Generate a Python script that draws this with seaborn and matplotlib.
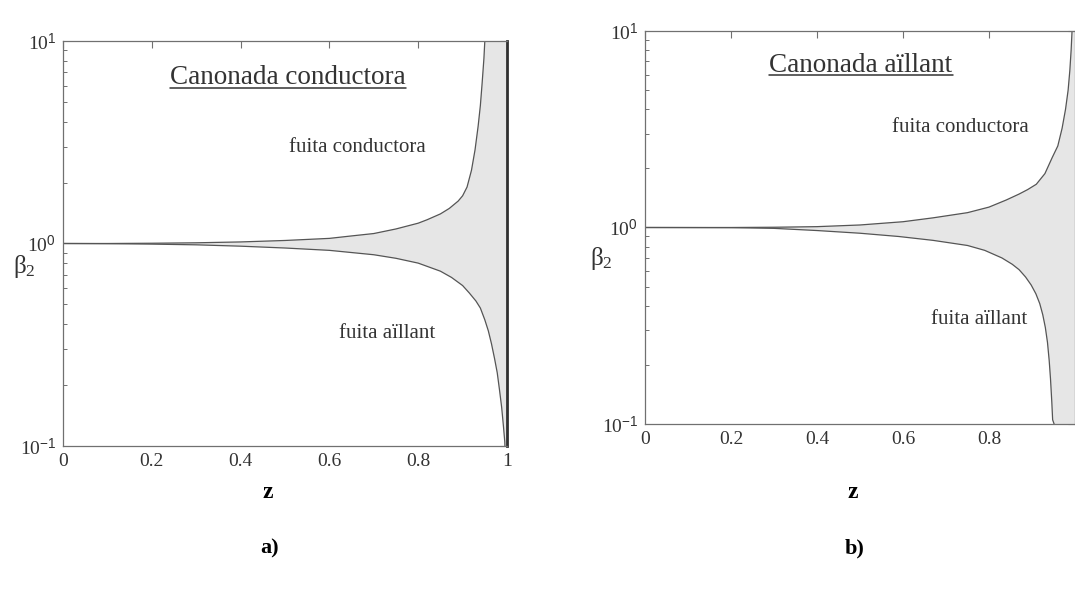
import numpy as np
import matplotlib
matplotlib.use("Agg")
import matplotlib.pyplot as plt
import seaborn as sns
from matplotlib.ticker import LogLocator, NullFormatter, FixedLocator
from matplotlib.lines import Line2D

# ---- data ----
za_up = [0, 0.1, 0.2, 0.3, 0.4, 0.5, 0.6, 0.65, 0.7, 0.75, 0.8, 0.82, 0.85, 0.87, 0.89, 0.9,
         0.91, 0.92, 0.928, 0.935, 0.94, 0.944, 0.948, 0.951, 1.0]
a_up = [1.0, 1.0, 1.003, 1.008, 1.018, 1.035, 1.06, 1.09, 1.12, 1.18, 1.26, 1.31, 1.40, 1.49, 1.62, 1.72,
        1.9, 2.3, 2.9, 3.8, 4.8, 6.2, 8.2, 11.0, 20.0]
za_lo = [0, 0.1, 0.2, 0.3, 0.4, 0.5, 0.6, 0.7, 0.75, 0.8, 0.85, 0.875, 0.9, 0.915, 0.93, 0.94, 0.95,
         0.958, 0.965, 0.972, 0.978, 0.983, 0.988, 0.992, 0.995, 1.0]
a_lo = [1.0, 0.998, 0.993, 0.985, 0.97, 0.95, 0.925, 0.88, 0.845, 0.80, 0.73, 0.68, 0.62, 0.57, 0.52, 0.48, 0.42,
        0.37, 0.32, 0.27, 0.23, 0.19, 0.155, 0.125, 0.105, 0.05]

zb_up = [0, 0.2, 0.3, 0.4, 0.5, 0.6, 0.67, 0.75, 0.8, 0.84, 0.87, 0.89, 0.91, 0.93, 0.947, 0.96,
         0.97, 0.978, 0.984, 0.988, 0.991, 0.994, 1.0]
b_up = [1.0, 1.0, 1.003, 1.01, 1.03, 1.07, 1.12, 1.19, 1.27, 1.38, 1.48, 1.56, 1.66, 1.88, 2.27, 2.6,
        3.2, 4.0, 5.0, 6.3, 8.0, 11.0, 20.0]
zb_lo = [0, 0.2, 0.3, 0.4, 0.5, 0.59, 0.67, 0.75, 0.79, 0.83, 0.854, 0.87, 0.885, 0.898, 0.909, 0.918,
         0.925, 0.931, 0.936, 0.94, 0.943, 0.946, 0.948, 1.0]
b_lo = [1.0, 0.998, 0.99, 0.965, 0.935, 0.90, 0.86, 0.81, 0.765, 0.70, 0.65, 0.61, 0.56, 0.51, 0.46, 0.41,
        0.36, 0.31, 0.26, 0.21, 0.17, 0.13, 0.105, 0.05]

x_ticks = [0, 0.2, 0.4, 0.6, 0.8, 1]
x_ticklabels = ["0", "0.2", "0.4", "0.6", "0.8", "1"]
y_ticks = [0.1, 1, 10]
y_ticklabels = [r"$10^{\mathsf{-1}}$", r"$10^{\mathsf{0}}$", r"$10^{\mathsf{1}}$"]

titles = ["Canonada conductora", "Canonada aïllant"]
label_up = "fuita conductora"
label_lo = "fuita aïllant"
panel_tags = ["a)", "b)"]

# ---- style ----
sns.set_theme(style="white")
plt.rcParams["font.family"] = ["Liberation Serif", "DejaVu Serif"]
plt.rcParams["mathtext.fontset"] = "custom"
plt.rcParams["mathtext.rm"] = "Liberation Serif"
plt.rcParams["mathtext.it"] = "Liberation Serif:italic"
plt.rcParams["mathtext.bf"] = "Liberation Serif:bold"
plt.rcParams["mathtext.sf"] = "Liberation Sans"

W, H = 1075, 612
fig = plt.figure(figsize=(W / 100, H / 100), dpi=100)
fig.patch.set_facecolor("white")

def fx(px):
    return px / W

def fy(py):
    return 1 - py / H

rects = [(63, 41, 507, 446), (645, 31, 1075, 424)]
data = [(za_up, a_up, za_lo, a_lo), (zb_up, b_up, zb_lo, b_lo)]

line_col = "#555555"
spine_col = "#707070"
fill_col = "#e6e6e6"
text_col = "#333333"

axes = []
for i, ((l, t, r, b), (zu, vu, zl, vl)) in enumerate(zip(rects, data)):
    ax = fig.add_axes([fx(l), fy(b), (r - l) / W, (b - t) / H])
    axes.append(ax)
    ax.set_yscale("log")
    poly_x = np.concatenate([zu, zl[::-1]])
    poly_y = np.concatenate([vu, vl[::-1]])
    ax.fill(poly_x, poly_y, color=fill_col, lw=0, zorder=1)
    sns.lineplot(x=zu, y=vu, ax=ax, color=line_col, lw=0.9, sort=False, zorder=2)
    sns.lineplot(x=zl, y=vl, ax=ax, color=line_col, lw=0.9, sort=False, zorder=2)
    ax.set_xlim(0, 1)
    ax.set_ylim(0.1, 10)
    ax.set_xlabel("")
    ax.set_ylabel("")
    ax.xaxis.set_major_locator(FixedLocator(x_ticks))
    ax.set_xticklabels(x_ticklabels)
    ax.yaxis.set_major_locator(FixedLocator(y_ticks))
    ax.set_yticklabels(y_ticklabels)
    ax.yaxis.set_minor_locator(LogLocator(base=10, subs=np.arange(2, 10)))
    ax.yaxis.set_minor_formatter(NullFormatter())
    ax.tick_params(axis="both", which="major", direction="in", top=True, right=True,
                   length=5, width=0.8, color=spine_col, labelsize=14, labelcolor=text_col)
    ax.tick_params(axis="y", which="minor", direction="in", left=True, right=True,
                   length=3, width=0.7, color=spine_col)
    ax.tick_params(axis="x", which="major", pad=5)
    ax.tick_params(axis="y", which="major", pad=5)
    for s in ax.spines.values():
        s.set_color(spine_col)
        s.set_linewidth(0.9)
        s.set_visible(True)
    ax.set_facecolor("white")

axes[0].spines["right"].set_color("#303030")
axes[0].spines["right"].set_linewidth(2.0)
# the "1" of panel b falls beyond the page edge in the reference
axes[1].get_xticklabels()[-1].set_visible(False)

t1 = fig.text(fx(288), fy(78), titles[0], ha="center", va="center", fontsize=19.5, color=text_col)
t2 = fig.text(fx(861), fy(65), titles[1], ha="center", va="center", fontsize=19.5, color=text_col)

fig.text(fx(357), fy(147), label_up, ha="center", va="center", fontsize=15, color=text_col)
fig.text(fx(960), fy(128), label_up, ha="center", va="center", fontsize=15, color=text_col)
fig.text(fx(387), fy(334), label_lo, ha="center", va="center", fontsize=15, color=text_col)
fig.text(fx(979), fy(319), label_lo, ha="center", va="center", fontsize=15, color=text_col)

fig.text(fx(24), fy(266), r"$\mathregular{β_2}$", ha="center", va="center", fontsize=18, color=text_col)
fig.text(fx(601), fy(258), r"$\mathregular{β_2}$", ha="center", va="center", fontsize=18, color=text_col)

fig.text(fx(268), fy(493), "z", ha="center", va="center", fontsize=17, fontweight="bold", color="black")
fig.text(fx(853), fy(493), "z", ha="center", va="center", fontsize=17, fontweight="bold", color="black")
fig.text(fx(270), fy(548), panel_tags[0], ha="center", va="center", fontsize=16, fontweight="bold", color="black")
fig.text(fx(855), fy(548), panel_tags[1], ha="center", va="center", fontsize=16, fontweight="bold", color="black")

# underline the titles
fig.canvas.draw()
renderer = fig.canvas.get_renderer()
for t in (t1, t2):
    bb = t.get_window_extent(renderer=renderer)
    x0, x1 = bb.x0 / W, bb.x1 / W
    yline = (bb.y0 + 3) / H
    fig.add_artist(Line2D([x0, x1], [yline, yline], transform=fig.transFigure,
                          color=text_col, lw=1.1))

fig.savefig("out.png", dpi=100, facecolor="white")
